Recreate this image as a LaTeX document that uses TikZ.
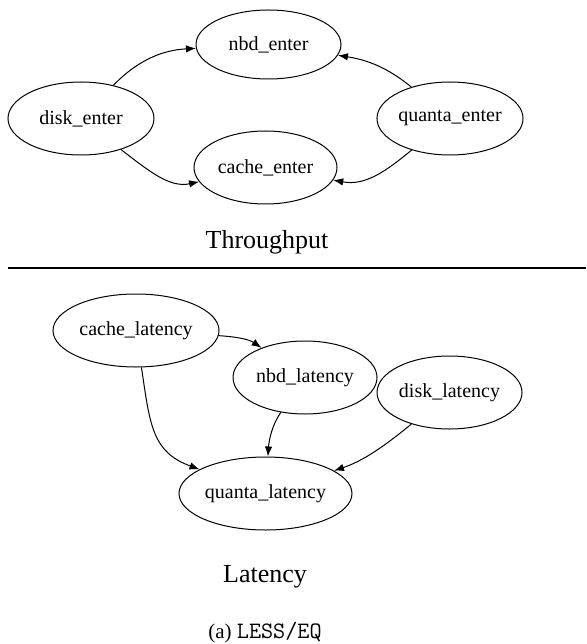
\documentclass[tikz,border=0pt]{standalone}
\usepackage{fontspec}
\setmainfont{Liberation Serif}
\usetikzlibrary{shapes.geometric,arrows.meta}
\begin{document}
\begin{tikzpicture}[x=1pt,y=-1pt,
  st/.style={draw,ellipse,line width=1pt,inner sep=0pt,minimum height=73pt,font=\fontsize{20}{22}\selectfont},
  ed/.style={line width=1pt,-{Latex[length=10pt,width=7.5pt]}},
  lab/.style={font=\fontsize{26}{28}\selectfont}]
\useasboundingbox (0,0) rectangle (586,644);
% Throughput
\node[st,minimum width=145pt,minimum height=69pt] (nbde) at (268.5,44.5) {nbd\_enter};
\node[st,minimum width=146pt] (diske) at (81,118.5) {disk\_enter};
\node[st,minimum width=144pt] (quantae) at (450,118.5) {quanta\_enter};
\node[st,minimum width=143pt] (cachee) at (265.5,167.5) {cache\_enter};
\draw[ed] (diske) .. controls (140,58) and (165,50) .. (nbde);
\draw[ed] (diske) .. controls (150,172) and (170,188) .. (cachee);
\draw[ed] (quantae) .. controls (388,68) and (368,60) .. (nbde);
\draw[ed] (quantae) .. controls (385,172) and (365,186) .. (cachee);
\node[lab] (tput) at (267,242) {Throughput};
\coordinate (sepl) at (8,268);
\coordinate (sepr) at (586,268);
\draw[line width=2.5pt] (sepl) -- (sepr);
% Latency
\node[st,minimum width=166pt] (cachel) at (136,330.5) {cache\_latency};
\node[st,minimum width=144pt] (nbdl) at (305,377.5) {nbd\_latency};
\node[st,minimum width=145pt] (diskl) at (449.5,392.5) {disk\_latency};
\node[st,minimum width=173pt] (quantal) at (265.5,493.5) {quanta\_latency};
\draw[ed] (cachel) .. controls (240,337) and (250,340) .. (nbdl);
\draw[ed] (cachel) .. controls (150,425) and (152,452) .. (quantal);
\draw[ed] (nbdl) .. controls (272,425) and (269,440) .. (quantal);
\draw[ed] (diskl) .. controls (380,450) and (360,462) .. (quantal);
\node[lab] (lat) at (265,577) {Latency};
\node[font=\fontsize{21}{24}\selectfont] (cap) at (265,633) {(a) {\ttfamily\fontsize{23.5}{24}\selectfont LESS/EQ}};
\end{tikzpicture}
\end{document}
